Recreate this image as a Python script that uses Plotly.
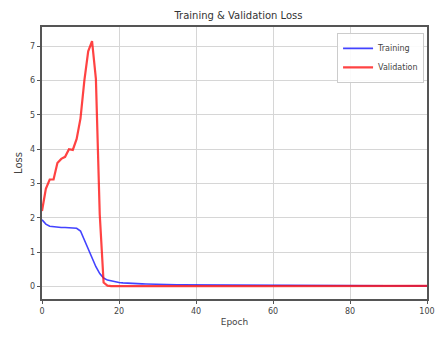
import plotly.graph_objects as go

epochs = list(range(0, 101))

training_loss = [
    1.95, 1.82, 1.76, 1.74, 1.73, 1.72, 1.72, 1.72, 1.71, 1.70,
    1.62, 1.36, 1.12, 0.85, 0.58, 0.38, 0.25, 0.19, 0.16, 0.14,
    0.12, 0.11, 0.10, 0.095, 0.09, 0.085, 0.08, 0.075, 0.07, 0.068,
    0.065, 0.062, 0.060, 0.058, 0.056, 0.055, 0.053, 0.052, 0.050, 0.049,
    0.048, 0.047, 0.046, 0.045, 0.044, 0.043, 0.042, 0.042, 0.041, 0.040,
    0.040, 0.039, 0.038, 0.038, 0.037, 0.037, 0.036, 0.036, 0.035, 0.035,
    0.034, 0.034, 0.033, 0.033, 0.033, 0.032, 0.032, 0.031, 0.031, 0.031,
    0.030, 0.030, 0.030, 0.029, 0.029, 0.029, 0.028, 0.028, 0.028, 0.028,
    0.027, 0.027, 0.027, 0.027, 0.026, 0.026, 0.026, 0.026, 0.025, 0.025,
    0.025, 0.025, 0.025, 0.024, 0.024, 0.024, 0.024, 0.024, 0.023, 0.023,
    0.023,
]

validation_loss = [
    2.20, 2.85, 3.12, 3.12, 3.60, 3.72, 3.78, 4.00, 3.98, 4.30,
    4.90, 6.00, 6.85, 7.15, 6.05, 2.10, 0.12, 0.03, 0.015, 0.013,
    0.012, 0.012, 0.011, 0.012, 0.013, 0.012, 0.011, 0.011, 0.012, 0.012,
    0.013, 0.012, 0.011, 0.012, 0.012, 0.013, 0.012, 0.012, 0.011, 0.012,
    0.013, 0.013, 0.012, 0.012, 0.011, 0.012, 0.012, 0.013, 0.012, 0.012,
    0.012, 0.013, 0.013, 0.012, 0.012, 0.012, 0.013, 0.013, 0.014, 0.013,
    0.013, 0.014, 0.014, 0.013, 0.014, 0.014, 0.015, 0.014, 0.014, 0.015,
    0.015, 0.015, 0.016, 0.015, 0.016, 0.016, 0.016, 0.017, 0.016, 0.017,
    0.017, 0.017, 0.018, 0.017, 0.018, 0.018, 0.018, 0.019, 0.018, 0.019,
    0.019, 0.019, 0.020, 0.019, 0.020, 0.020, 0.020, 0.020, 0.021, 0.020,
    0.021,
]

x_ticks = [0, 20, 40, 60, 80, 100]
y_ticks = [0, 1, 2, 3, 4, 5, 6, 7]

fig = go.Figure()
fig.add_trace(go.Scatter(x=epochs, y=training_loss, mode="lines", name="Training",
                         line=dict(color="rgba(20,20,255,0.8)", width=1.6)))
fig.add_trace(go.Scatter(x=epochs, y=validation_loss, mode="lines", name="Validation",
                         line=dict(color="rgba(255,20,20,0.8)", width=2.2)))

axis_common = dict(
    showgrid=True, gridcolor="#d6d6d6", gridwidth=1.3,
    showline=True, linecolor="#555555", linewidth=1.5, mirror=True,
    ticks="outside", ticklen=3.5, tickcolor="#555555", tickwidth=1,
    zeroline=False,
    tickfont=dict(family="DejaVu Sans", size=8, color="#444444"),
)

fig.update_layout(
    width=446, height=337,
    margin=dict(l=42, r=11, t=27, b=31),
    paper_bgcolor="white", plot_bgcolor="white",
    title=dict(text="Training & Validation Loss", x=(42 + 435) / 2 / 446, xanchor="center",
               y=1 - 15 / 337, yanchor="middle", yref="container",
               font=dict(family="DejaVu Sans", size=10, color="#333333")),
    xaxis=dict(range=[0, 100], tickvals=x_ticks,
               title=dict(text="Epoch", standoff=4,
                          font=dict(family="DejaVu Sans", size=9, color="#444444")),
               **axis_common),
    yaxis=dict(range=[-0.36, 7.56], tickvals=y_ticks,
               title=dict(text="Loss", standoff=6,
                          font=dict(family="DejaVu Sans", size=10, color="#444444")),
               **axis_common),
    legend=dict(x=(432 - 42) / 393, xanchor="right", y=1 - 6 / 279, yanchor="top",
                bgcolor="rgba(255,255,255,0.9)", bordercolor="#cccccc", borderwidth=1,
                font=dict(family="DejaVu Sans", size=8, color="#444444"),
                itemwidth=30, tracegroupgap=0),
    showlegend=True,
)

fig.write_html("out.html")
